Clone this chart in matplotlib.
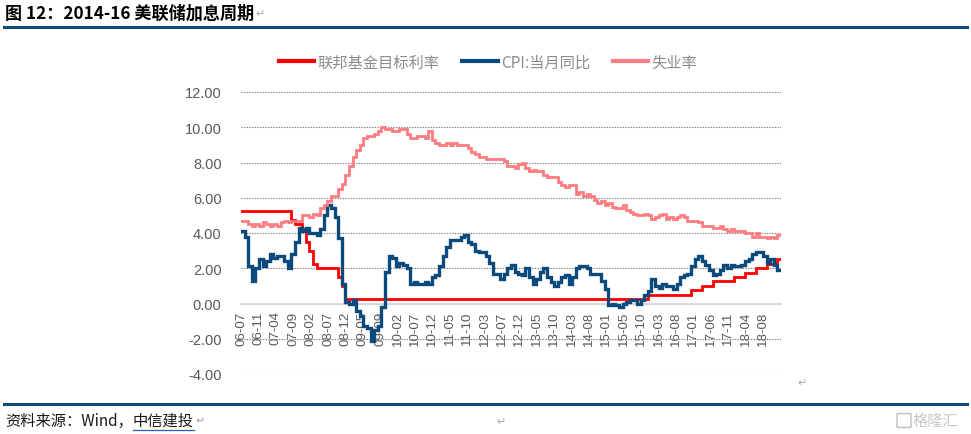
import numpy as np
import matplotlib
matplotlib.use("Agg")
import matplotlib.pyplot as plt
from matplotlib.lines import Line2D
from matplotlib.patches import FancyBboxPatch

# ---------------- data (monthly, 2006-07 .. 2018-12) ----------------
fed_rate = (
    [5.25, 5.25, 5.25, 5.25, 5.25, 5.25] +                                   # 2006 Jul-Dec
    [5.25, 5.25, 5.25, 5.25, 5.25, 5.25, 5.25, 5.25, 4.75, 4.5, 4.5, 4.25] +  # 2007
    [3.5, 3.0, 2.25, 2.0, 2.0, 2.0, 2.0, 2.0, 2.0, 1.5, 1.0, 0.25] +           # 2008
    [0.25] * 12 + [0.25] * 12 + [0.25] * 12 + [0.25] * 12 + [0.25] * 12 + [0.25] * 12 +  # 2009-2014
    [0.25, 0.25, 0.25, 0.25, 0.25, 0.25, 0.25, 0.25, 0.25, 0.25, 0.25, 0.5] +  # 2015
    [0.5, 0.5, 0.5, 0.5, 0.5, 0.5, 0.5, 0.5, 0.5, 0.5, 0.5, 0.75] +            # 2016
    [0.75, 0.75, 1.0, 1.0, 1.0, 1.25, 1.25, 1.25, 1.25, 1.25, 1.25, 1.5] +     # 2017
    [1.5, 1.5, 1.75, 1.75, 1.75, 2.0, 2.0, 2.0, 2.25, 2.25, 2.25, 2.5]         # 2018
)

cpi_yoy = (
    [4.1, 3.8, 2.1, 1.3, 2.0, 2.5] +
    [2.1, 2.4, 2.8, 2.6, 2.7, 2.7, 2.4, 2.0, 2.8, 3.5, 4.3, 4.1] +
    [4.3, 4.0, 4.0, 3.9, 4.2, 5.0, 5.6, 5.4, 4.9, 3.7, 1.1, 0.1] +
    [0.0, 0.2, -0.4, -0.7, -1.3, -1.4, -2.1, -1.5, -1.3, -0.2, 1.8, 2.7] +
    [2.6, 2.1, 2.3, 2.2, 2.0, 1.1, 1.2, 1.1, 1.1, 1.2, 1.1, 1.5] +
    [1.6, 2.1, 2.7, 3.2, 3.6, 3.6, 3.6, 3.8, 3.9, 3.5, 3.4, 3.0] +
    [2.9, 2.9, 2.7, 2.3, 1.7, 1.7, 1.4, 1.7, 2.0, 2.2, 1.8, 1.7] +
    [1.6, 2.0, 1.5, 1.1, 1.4, 1.8, 2.0, 1.5, 1.2, 1.0, 1.2, 1.5] +
    [1.6, 1.1, 1.5, 2.0, 2.1, 2.1, 2.0, 1.7, 1.7, 1.7, 1.3, 0.8] +
    [-0.1, 0.0, -0.1, -0.2, 0.0, 0.1, 0.2, 0.2, 0.0, 0.2, 0.5, 0.7] +
    [1.4, 1.0, 0.9, 1.1, 1.0, 1.0, 0.8, 1.1, 1.5, 1.6, 1.7, 2.1] +
    [2.5, 2.7, 2.4, 2.2, 1.9, 1.6, 1.7, 1.9, 2.2, 2.0, 2.2, 2.1] +
    [2.1, 2.2, 2.4, 2.5, 2.8, 2.9, 2.9, 2.7, 2.3, 2.5, 2.2, 1.9]
)

unemployment = (
    [4.7, 4.7, 4.5, 4.4, 4.5, 4.4] +
    [4.6, 4.5, 4.4, 4.5, 4.4, 4.6, 4.7, 4.6, 4.7, 4.7, 4.7, 5.0] +
    [5.0, 4.9, 5.1, 5.0, 5.4, 5.6, 5.8, 6.1, 6.1, 6.5, 6.8, 7.3] +
    [7.8, 8.3, 8.7, 9.0, 9.4, 9.5, 9.5, 9.6, 9.8, 10.0, 9.9, 9.9] +
    [9.8, 9.8, 9.9, 9.9, 9.6, 9.4, 9.4, 9.5, 9.5, 9.4, 9.8, 9.3] +
    [9.1, 9.0, 9.0, 9.1, 9.0, 9.1, 9.0, 9.0, 9.0, 8.8, 8.6, 8.5] +
    [8.3, 8.3, 8.2, 8.2, 8.2, 8.2, 8.2, 8.1, 7.8, 7.8, 7.7, 7.9] +
    [8.0, 7.7, 7.5, 7.6, 7.5, 7.5, 7.3, 7.2, 7.2, 7.2, 6.9, 6.7] +
    [6.6, 6.7, 6.7, 6.2, 6.3, 6.1, 6.2, 6.1, 5.9, 5.7, 5.8, 5.6] +
    [5.7, 5.5, 5.4, 5.4, 5.6, 5.3, 5.2, 5.1, 5.0, 5.0, 5.1, 5.0] +
    [4.8, 4.9, 5.0, 5.1, 4.8, 4.9, 4.8, 4.9, 5.0, 4.9, 4.7, 4.7] +
    [4.7, 4.6, 4.4, 4.4, 4.4, 4.3, 4.3, 4.4, 4.2, 4.1, 4.2, 4.1] +
    [4.1, 4.1, 4.0, 4.0, 3.8, 4.0, 3.8, 3.8, 3.7, 3.8, 3.7, 3.9]
)

tick_labels = ["06-07", "06-11", "07-04", "07-09", "08-02", "08-07", "08-12",
               "09-05", "09-09", "10-02", "10-07", "10-12", "11-05", "11-10",
               "12-03", "12-07", "12-12", "13-05", "13-10", "14-03", "14-08",
               "15-01", "15-05", "15-10", "16-03", "16-08", "17-01", "17-06",
               "17-11", "18-04", "18-08"]

series_names = ["联邦基金目标利率", "CPI:当月同比", "失业率"]
series_colors = ["#FF0000", "#0B4A7D", "#FF7C80"]

# ---------------- figure ----------------
W, H = 971, 435
fig = plt.figure(figsize=(W / 100, H / 100), dpi=100)
fig.patch.set_facecolor("white")

cjk = ["Noto Sans CJK SC", "DejaVu Sans"]

ax = fig.add_axes([241 / W, 1 - 375 / H, 540 / W, 282 / H])
n = len(cpi_yoy)
x = np.arange(n + 1)

def ext(v):
    v = list(v)
    return v + [v[-1]]

handles = []
for vals, col, lw in zip([fed_rate, cpi_yoy, unemployment], series_colors, [2.0, 2.4, 2.0]):
    h, = ax.plot(x, ext(vals), drawstyle="steps-post", color=col, lw=lw,
                 solid_joinstyle="miter", zorder=3)
    handles.append(h)

for s in ["top", "right", "left"]:
    ax.spines[s].set_visible(False)
ax.spines["bottom"].set_position(("data", 0))
ax.spines["bottom"].set_color("#D9D9D9")
ax.spines["bottom"].set_linewidth(1.3)

ax.set_xlim(0, n)
ax.set_ylim(-4, 12)
yt = np.arange(-4, 12.1, 2)
ax.set_yticks(yt)
ax.set_yticklabels([f"{v:.2f}" for v in yt],
                   fontsize=10.5, color="#595959", family="Liberation Sans")

tick_pos = np.linspace(0, 145, len(tick_labels))
ax.set_xticks(tick_pos)
ax.set_xticklabels(tick_labels, rotation=90, fontsize=9.6, color="#595959",
                   family="Liberation Sans", va="top", ha="center")

ax.tick_params(axis="both", length=0)
ax.tick_params(axis="y", pad=14)
ax.tick_params(axis="x", pad=5)
ax.yaxis.grid(True, linestyle=(0, (1.2, 1.2)), color="#7F7F7F", lw=0.8)
ax.set_axisbelow(True)

# legend
leg = fig.legend(handles, series_names, loc="center", bbox_to_anchor=(488 / W, 1 - 63 / H),
                 ncol=3, frameon=False, handlelength=2.3, handletextpad=0.2,
                 columnspacing=1.5, prop={"family": cjk, "size": 11})
for t in leg.get_texts():
    t.set_color("#8C8C8C")
for l in leg.get_lines():
    l.set_linewidth(3)

# title and rules
fig.text(5 / W, 1 - 14 / H, "图 12：2014-16 美联储加息周期", fontsize=12.3, fontweight="bold",
         family=cjk, va="center", ha="left", color="black")
fig.text(255 / W, 1 - 14 / H, "↵", fontsize=8, color="#A6A6A6", va="center", family="DejaVu Sans")
fig.add_artist(Line2D([4 / W, 967 / W], [1 - 28 / H] * 2, color="#0E4C7C", lw=2.2))
fig.add_artist(Line2D([4 / W, 967 / W], [1 - 405 / H] * 2, color="#0E4C7C", lw=2.2))

fig.text(797 / W, 1 - 383 / H, "↵", fontsize=8, color="#A6A6A6", va="center", family="DejaVu Sans")

# footer
f1 = fig.text(5 / W, 1 - 421 / H, "资料来源：Wind，", fontsize=11, style="italic",
              family=cjk, va="center", ha="left", color="#1A1A1A")
fig.canvas.draw()
r = fig.canvas.get_renderer()
bb = f1.get_window_extent(r)
f2 = fig.text(bb.x1 / W, 1 - 421 / H, "中信建投", fontsize=11, style="italic",
              family=cjk, va="center", ha="left", color="#1A1A1A")
fig.canvas.draw()
bb2 = f2.get_window_extent(r)
fig.add_artist(Line2D([bb2.x0 / W, bb2.x1 / W], [1 - 431 / H] * 2, color="#2F5DB8", lw=0.9))
fig.text((bb2.x1 + 2) / W, 1 - 421 / H, "↵", fontsize=8, color="#A6A6A6", va="center",
         family="DejaVu Sans")
fig.text(496 / W, 1 - 422 / H, "↵", fontsize=8, color="#A6A6A6", va="center", family="DejaVu Sans")

# watermark
fig.add_artist(FancyBboxPatch((898 / W, 1 - 428 / H), 12 / W, 13 / H,
                              boxstyle="round,pad=0.001", fill=False,
                              ec="#C8C8C8", lw=1.2, transform=fig.transFigure))
fig.text(913 / W, 1 - 421 / H, "格隆汇", fontsize=11, color="#C8C8C8", family=cjk,
         va="center", ha="left")

fig.savefig("out.png", dpi=100, facecolor="white")
